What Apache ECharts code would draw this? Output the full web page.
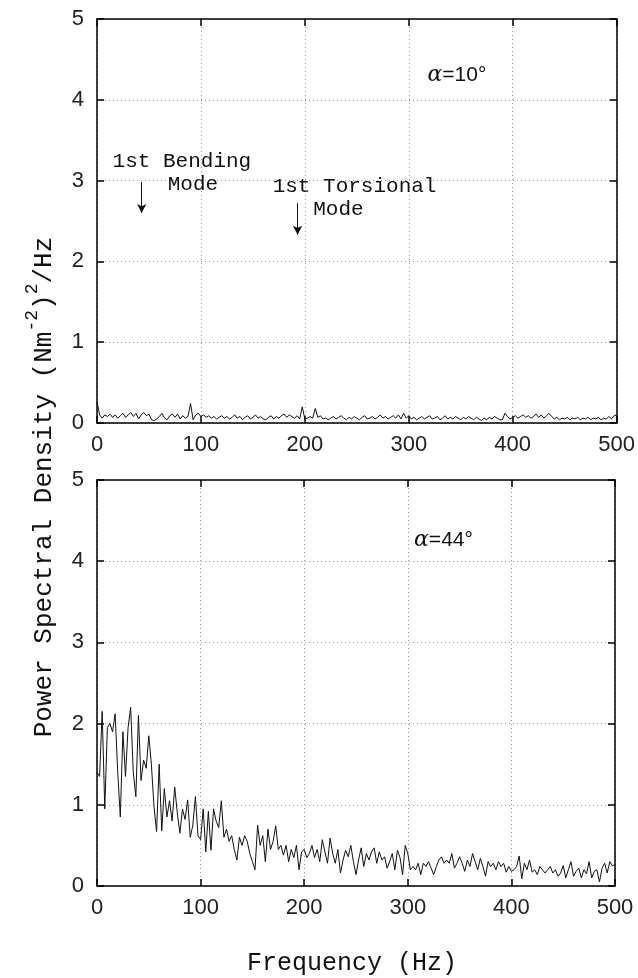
<!DOCTYPE html>
<html>
<head>
    <meta charset="UTF-8">
    <title>psd</title>
    <script type="text/javascript" src="https://cdn.jsdelivr.net/npm/echarts@6/dist/echarts.min.js"></script>
</head>
<style>
    body { margin: 0; background: #fff; }
    .main { width: 638px; height: 978px; }
</style>
<body>
<div id="charts" class="main"></div>
<script type="text/javascript">
    // frequency grid, Hz (one sample every 2.5 Hz, 0..500)
    var freqStep = 2.5;
    var xTicks = [0, 100, 200, 300, 400, 500];
    var yTicks = [0, 1, 2, 3, 4, 5];

    // alpha = 10 deg
    var psd10 = [
        0.26, 0.10, 0.06, 0.10, 0.08, 0.11, 0.07, 0.10, 0.06, 0.09,
        0.12, 0.07, 0.10, 0.13, 0.08, 0.12, 0.05, 0.10, 0.13, 0.09,
        0.11, 0.04, 0.03, 0.05, 0.08, 0.12, 0.06, 0.04, 0.09, 0.11,
        0.07, 0.11, 0.05, 0.09, 0.06, 0.08, 0.24, 0.04, 0.10, 0.12,
        0.08, 0.10, 0.07, 0.09, 0.06, 0.08, 0.05, 0.07, 0.09, 0.06,
        0.08, 0.05, 0.07, 0.10, 0.06, 0.08, 0.04, 0.07, 0.09, 0.05,
        0.07, 0.10, 0.06, 0.08, 0.05, 0.04, 0.07, 0.09, 0.05, 0.08,
        0.06, 0.09, 0.11, 0.07, 0.10, 0.08, 0.06, 0.09, 0.05, 0.20,
        0.05, 0.06, 0.08, 0.06, 0.18, 0.07, 0.09, 0.05, 0.06, 0.04,
        0.06, 0.08, 0.05, 0.07, 0.09, 0.06, 0.04, 0.07, 0.05, 0.08,
        0.06, 0.04, 0.07, 0.09, 0.05, 0.06, 0.08, 0.05, 0.07, 0.10,
        0.06, 0.08, 0.05, 0.07, 0.09, 0.06, 0.10, 0.05, 0.12, 0.06,
        0.09, 0.05, 0.07, 0.04, 0.06, 0.08, 0.05, 0.07, 0.09, 0.05,
        0.06, 0.08, 0.04, 0.06, 0.09, 0.05, 0.07, 0.05, 0.08, 0.06,
        0.04, 0.07, 0.05, 0.08, 0.06, 0.04, 0.07, 0.05, 0.03, 0.06,
        0.04, 0.07, 0.05, 0.08, 0.06, 0.04, 0.04, 0.12, 0.08, 0.05,
        0.07, 0.09, 0.06, 0.08, 0.10, 0.07, 0.09, 0.06, 0.08, 0.11,
        0.07, 0.10, 0.06, 0.09, 0.12, 0.08, 0.05, 0.07, 0.04, 0.06,
        0.05, 0.07, 0.04, 0.06, 0.05, 0.07, 0.04, 0.06, 0.05, 0.07,
        0.04, 0.06, 0.05, 0.07, 0.04, 0.06, 0.05, 0.08, 0.05, 0.09,
        0.10
    ];

    // alpha = 44 deg
    var psd44 = [
        1.40, 1.35, 2.15, 0.95, 1.95, 2.00, 1.90, 2.12, 1.40, 0.85,
        1.90, 1.35, 1.95, 2.20, 1.40, 1.10, 2.10, 1.30, 1.55, 1.45,
        1.85, 1.50, 0.98, 0.67, 1.50, 0.68, 1.20, 0.85, 1.05, 0.80,
        1.22, 0.90, 0.65, 0.95, 0.82, 1.06, 0.60, 0.75, 1.10, 0.62,
        0.57, 0.95, 0.42, 0.92, 0.44, 0.95, 0.80, 0.72, 1.05, 0.60,
        0.70, 0.55, 0.62, 0.45, 0.32, 0.60, 0.50, 0.62, 0.55, 0.40,
        0.30, 0.20, 0.75, 0.50, 0.62, 0.30, 0.70, 0.45, 0.55, 0.74,
        0.45, 0.50, 0.38, 0.50, 0.30, 0.45, 0.35, 0.50, 0.20, 0.42,
        0.45, 0.35, 0.40, 0.50, 0.35, 0.45, 0.30, 0.57, 0.42, 0.28,
        0.59, 0.40, 0.28, 0.45, 0.16, 0.32, 0.44, 0.36, 0.50, 0.30,
        0.14, 0.32, 0.47, 0.24, 0.40, 0.32, 0.42, 0.47, 0.28, 0.42,
        0.32, 0.36, 0.22, 0.30, 0.40, 0.20, 0.44, 0.35, 0.14, 0.50,
        0.40, 0.20, 0.24, 0.20, 0.28, 0.14, 0.28, 0.24, 0.30, 0.22,
        0.14, 0.24, 0.32, 0.36, 0.28, 0.32, 0.28, 0.40, 0.22, 0.28,
        0.36, 0.28, 0.18, 0.32, 0.24, 0.40, 0.30, 0.20, 0.34, 0.24,
        0.12, 0.30, 0.24, 0.28, 0.20, 0.30, 0.24, 0.28, 0.17, 0.24,
        0.18, 0.20, 0.24, 0.37, 0.09, 0.28, 0.20, 0.32, 0.17, 0.20,
        0.14, 0.24, 0.20, 0.16, 0.20, 0.24, 0.16, 0.20, 0.12, 0.16,
        0.25, 0.10, 0.20, 0.30, 0.12, 0.18, 0.22, 0.10, 0.20, 0.15,
        0.30, 0.10, 0.18, 0.20, 0.05, 0.22, 0.28, 0.16, 0.30, 0.25,
        0.26
    ];

    // text annotations, in data coordinates of each panel
    var notes = [
        {grid: 0, at: [15, 3.24], text: '1st Bending'},
        {grid: 0, at: [68, 2.95], text: 'Mode'},
        {grid: 0, at: [169, 2.93], text: '1st Torsional'},
        {grid: 0, at: [208, 2.64], text: 'Mode'},
        {grid: 0, at: [318, 4.3], text: '{a|α}=10°'},
        {grid: 1, at: [306, 4.26], text: '{a|α}=44°'}
    ];
    // mode arrows: [freq, from, to]
    var arrows = [[43, 2.98, 2.6], [193, 2.72, 2.33]];

    function pairs(vals) {
        var out = [];
        for (var i = 0; i < vals.length; i++) {
            out.push([i * freqStep, vals[i]]);
        }
        return out;
    }

    var labelFont = {fontFamily: 'Liberation Sans', fontSize: 22, color: '#222'};

    function xAx(gi, top) {
        return {
            type: 'value', gridIndex: gi, min: 0, max: 500, interval: 100,
            position: top ? 'top' : 'bottom',
            axisLine: {show: true, onZero: false, lineStyle: {color: '#000', width: 1.5}},
            axisTick: {show: true, inside: true, length: 7, lineStyle: {color: '#000', width: 1.5}},
            axisLabel: Object.assign({show: !top, margin: 11}, labelFont),
            splitLine: {show: !top, lineStyle: {color: '#999', type: [1, 3], width: 1}}
        };
    }

    function yAx(gi, right) {
        return {
            type: 'value', gridIndex: gi, min: 0, max: 5, interval: 1,
            position: right ? 'right' : 'left',
            axisLine: {show: true, onZero: false, lineStyle: {color: '#000', width: 1.5}},
            axisTick: {show: true, inside: true, length: 7, lineStyle: {color: '#000', width: 1.5}},
            axisLabel: Object.assign({show: !right, margin: 13}, labelFont),
            splitLine: {show: !right, lineStyle: {color: '#999', type: [1, 3], width: 1}}
        };
    }

    var chartDom = document.getElementById('charts');
    var myChart = echarts.init(chartDom);
    var option = {
        animation: false,
        backgroundColor: '#fff',
        grid: [
            {left: 97, top: 19, width: 520, height: 404},
            {left: 97, top: 480, width: 518, height: 406}
        ],
        xAxis: [xAx(0, false), xAx(0, true), xAx(1, false), xAx(1, true)],
        yAxis: [yAx(0, false), yAx(0, true), yAx(1, false), yAx(1, true)],
        series: [
            {
                type: 'line', xAxisIndex: 0, yAxisIndex: 0, data: pairs(psd10),
                symbol: 'none', lineStyle: {color: '#111', width: 1},
                markLine: {
                    silent: true, symbol: ['none', 'arrow'], symbolSize: [7, 9],
                    label: {show: false},
                    lineStyle: {color: '#111', width: 1, type: 'solid'},
                    data: arrows.map(function (a) {
                        return [{coord: [a[0], a[1]]}, {coord: [a[0], a[2]]}];
                    })
                }
            },
            {
                type: 'line', xAxisIndex: 2, yAxisIndex: 2, data: pairs(psd44),
                symbol: 'none', lineStyle: {color: '#111', width: 1}
            }
        ]
    };
    myChart.setOption(option);

    var graphics = [];
    notes.forEach(function (n) {
        var p = myChart.convertToPixel({gridIndex: n.grid}, n.at);
        graphics.push({
            type: 'text', x: p[0], y: p[1],
            style: {
                text: n.text, fill: '#111', align: 'left', verticalAlign: 'middle',
                font: n.text.indexOf('{a|') === 0 ? '21px "Liberation Sans"' : '21px "Liberation Mono"',
                rich: {a: {font: 'italic 22px "DejaVu Serif"', fill: '#111'}}
            }
        });
    });
    // axis titles
    graphics.push({
        type: 'text', x: 40, y: 487, rotation: Math.PI / 2,
        style: {
            text: '{n|Power Spectral Density (Nm}{s|-2}{n|)}{s|2}{n|/Hz}',
            fill: '#111', align: 'center', verticalAlign: 'middle',
            font: '26px "Liberation Mono"',
            rich: {
                n: {font: '26px "Liberation Mono"', lineHeight: 34, verticalAlign: 'bottom', fill: '#111'},
                s: {font: '18px "Liberation Mono"', lineHeight: 16, verticalAlign: 'top', fill: '#111'}
            }
        }
    });
    graphics.push({
        type: 'text', x: 352, y: 963,
        style: {
            text: 'Frequency (Hz)', fill: '#111', align: 'center', verticalAlign: 'middle',
            font: '25px "Liberation Mono"'
        }
    });
    myChart.setOption({graphic: graphics});
</script>
</body>
</html>
